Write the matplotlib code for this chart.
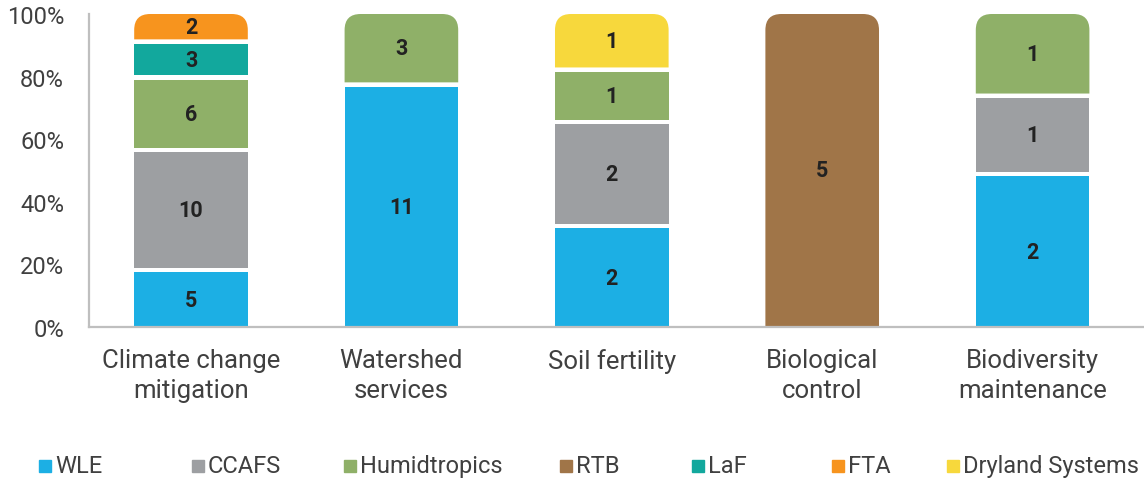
import numpy as np
import matplotlib
matplotlib.use("Agg")
import matplotlib.pyplot as plt
from matplotlib.path import Path
from matplotlib.patches import PathPatch, Rectangle
from matplotlib.lines import Line2D

plt.rcParams['font.family'] = ['Roboto', 'DejaVu Sans']

# categories and counts per programme
categorias = ["Climate change\nmitigation", "Watershed\nservices", "Soil fertility",
              "Biological\ncontrol", "Biodiversity\nmaintenance"]
series = ["WLE", "CCAFS", "Humidtropics", "RTB", "LaF", "FTA", "Dryland Systems"]
wle          = [5, 11, 2, 0, 2]
ccafs        = [10, 0, 2, 0, 1]
humidtropics = [6, 3, 1, 0, 1]
rtb          = [0, 0, 0, 5, 0]
laf          = [3, 0, 0, 0, 0]
fta          = [2, 0, 0, 0, 0]
dryland      = [0, 0, 1, 0, 0]
colores = ["#1CAFE4", "#9D9FA2", "#8FB068", "#A07548", "#12A89D", "#F7941E", "#F7D83C"]

valores = np.array([wle, ccafs, humidtropics, rtb, laf, fta, dryland], dtype=float)
totales = valores.sum(axis=0)
pct = valores / totales

fig = plt.figure(figsize=(11.44, 4.81), dpi=100)
ax = fig.add_axes([89/1144, 153/481, 1 - 89/1144, 313/481])
paso = 210.4
ax.set_xlim(-(191 - 89) / paso, (1144 - 191) / paso)
ax.set_ylim(0, 1)

ancho = 0.54
px_y = 313.0
gap = 4.3 / px_y
rx, ry = 16 / paso, 16 / px_y

def barra_redondeada(x0, x1, y0, y1, color):
    verts = [(x0, y0), (x1, y0), (x1, y1 - ry), (x1, y1), (x1 - rx, y1),
             (x0 + rx, y1), (x0, y1), (x0, y1 - ry), (x0, y0)]
    codes = [Path.MOVETO, Path.LINETO, Path.LINETO, Path.CURVE3, Path.CURVE3,
             Path.LINETO, Path.CURVE3, Path.CURVE3, Path.CLOSEPOLY]
    ax.add_patch(PathPatch(Path(verts, codes), facecolor=color, edgecolor='none'))

for j in range(len(categorias)):
    idx = [i for i in range(len(series)) if valores[i, j] > 0]
    base = 0.0
    for k, i in enumerate(idx):
        y0 = base - (0.3 * gap if k > 0 else 0)
        y1 = base + pct[i, j] - (1.3 * gap if k < len(idx) - 1 else 0)
        x0, x1 = j - ancho / 2, j + ancho / 2
        if k == len(idx) - 1:
            barra_redondeada(x0, x1, y0, y1, colores[i])
        else:
            ax.add_patch(Rectangle((x0, y0), ancho, y1 - y0, facecolor=colores[i], edgecolor='none'))
        ax.text(j, (y0 + y1) / 2, f"{int(valores[i, j])}", ha='center', va='center',
                fontsize=15.5, fontweight='bold', color='#222222')
        base += pct[i, j]

for s in ['top', 'right']:
    ax.spines[s].set_visible(False)
for s in ['left', 'bottom']:
    ax.spines[s].set_color('#BFBFBF')
    ax.spines[s].set_linewidth(1.6)

ax.set_yticks(np.linspace(0, 1, 6))
ax.set_yticklabels([f"{int(v*100)}%" for v in np.linspace(0, 1, 6)])
ax.tick_params(axis='y', length=0, pad=18, labelsize=17, labelcolor='#404040')
ax.set_xticks(range(len(categorias)))
ax.set_xticklabels(categorias, linespacing=1.3)
ax.tick_params(axis='x', length=0, pad=15, labelsize=18.5, labelcolor='#404040')

# legend placed by hand in a single row
leg_x = [45, 198, 350, 566, 698, 838, 953]
for i, nombre in enumerate(series):
    fig.add_artist(Line2D([leg_x[i] / 1144], [1 - 467 / 481], marker='s', markersize=9,
                          color=colores[i], linestyle='none', transform=fig.transFigure))
    fig.text((leg_x[i] + 10) / 1144, 1 - 467 / 481, nombre, ha='left', va='center',
             fontsize=17, color='#404040')

fig.savefig("out.png", dpi=100)
